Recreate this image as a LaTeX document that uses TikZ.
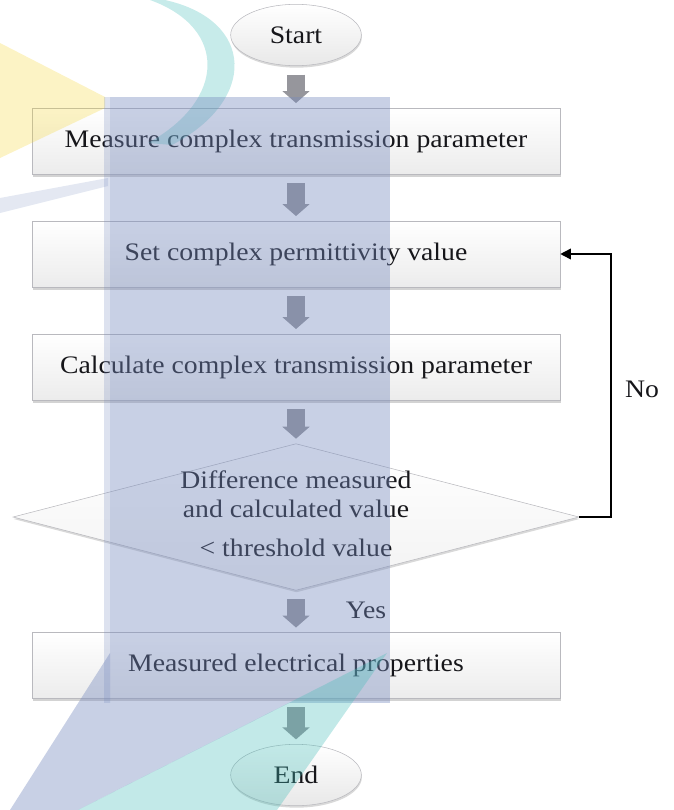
\documentclass[tikz,border=0pt]{standalone}
\usepackage{fontspec}
\setmainfont{Liberation Serif}[FakeStretch=1.1]
\usetikzlibrary{arrows.meta,shapes.geometric,shadows}
\definecolor{flowgray}{RGB}{150,150,156}
\definecolor{boxedge}{RGB}{185,185,190}
\definecolor{inkcolor}{RGB}{22,22,26}
\definecolor{logoblue}{RGB}{118,138,190}
\definecolor{logoteal}{RGB}{69,189,184}
\definecolor{logoyellow}{RGB}{244,212,41}

\begin{document}
\begin{tikzpicture}[x=0.75pt, y=-0.75pt,
        every node/.style={text=inkcolor,
        font=\fontsize{18.9pt}{21.75pt}\selectfont},
        terminal/.style={ellipse, draw=boxedge, line width=0.4pt,
        top color=white, bottom color=gray!18, minimum width=98pt,
        minimum height=46pt, drop shadow={shadow xshift=0.4pt,
        shadow yshift=-1.5pt, opacity=0.3}},
        process/.style={rectangle, draw=boxedge, line width=0.4pt,
        top color=white, bottom color=gray!15, minimum width=396pt,
        minimum height=49.5pt, drop shadow={shadow xshift=0.4pt,
        shadow yshift=-2pt, opacity=0.35}},
        decision/.style={diamond, draw=boxedge, line width=0.4pt,
        top color=white, bottom color=gray!10, inner sep=0pt,
        minimum width=424.5pt, minimum height=110pt,
        drop shadow={shadow xshift=0.4pt, shadow yshift=-1.5pt,
        opacity=0.3}},
        flowarrow/.style={-{Triangle[length=9pt, width=20pt]},
        line width=13pt, flowgray, shorten <=6.5pt, shorten >=3.5pt},
        backarrow/.style={-{Triangle[length=8pt, width=8pt]},
        line width=1.2pt, black},
      ]
      \useasboundingbox (0,0) rectangle (674,810);

      % Main chain of steps
      \node[terminal] (start) at (296,35) {Start};
      \node[process] (measure) at (296,141)
      {Measure complex transmission parameter};
      \node[process] (setperm) at (296,254)
      {Set complex permittivity value};
      \node[process] (calc) at (296,367)
      {Calculate complex transmission parameter};
      \node[decision] (check) at (296,517) {};
      \node[align=center] (checktxt) at (296,514)
      {Difference measured\\and calculated value\\[7.5pt]< threshold value};
      \node[process] (result) at (296,665.5)
      {Measured electrical properties};
      \node[terminal] (finish) at (296,775) {End};

      \draw[flowarrow] (start) -- (measure);
      \draw[flowarrow] (measure) -- (setperm);
      \draw[flowarrow] (setperm) -- (calc);
      \draw[flowarrow] (calc) -- (check);
      \draw[flowarrow] (check) -- (result);
      \draw[flowarrow] (result) -- (finish);

      % Yes / No branches
      \node (yes) at (366,610) {Yes};
      \draw[backarrow] (check.east) -- ++(32,0) |- (setperm.east);
      \node (no) at (642,389) {No};

      % faint logo shapes laid over the chart
      \fill[logoyellow, opacity=0.27]
      (0,43) -- (105,97) -- (105,108) -- (0,158) -- cycle;
      \fill[logoteal, opacity=0.3]
      (165,0) .. controls (255,20) and (258,100) .. (172,145)
      -- (148,143) .. controls (226,100) and (228,28) .. (150,0) -- cycle;
      \fill[logoblue, opacity=0.2]
      (0,198) -- (108,178) -- (108,186) -- (0,213) -- cycle;
      \fill[logoblue, opacity=0.25] (104,97) rectangle (110,703);
      \fill[logoblue, opacity=0.4] (110,97) rectangle (390,703);
      \fill[logoblue, opacity=0.4]
      (10,810) -- (110,653) -- (110,703) -- (289,703) -- (78,810) -- cycle;
      \fill[logoteal, opacity=0.33]
      (78,810) -- (387,653) -- (277,810) -- cycle;
    \end{tikzpicture}
\end{document}
